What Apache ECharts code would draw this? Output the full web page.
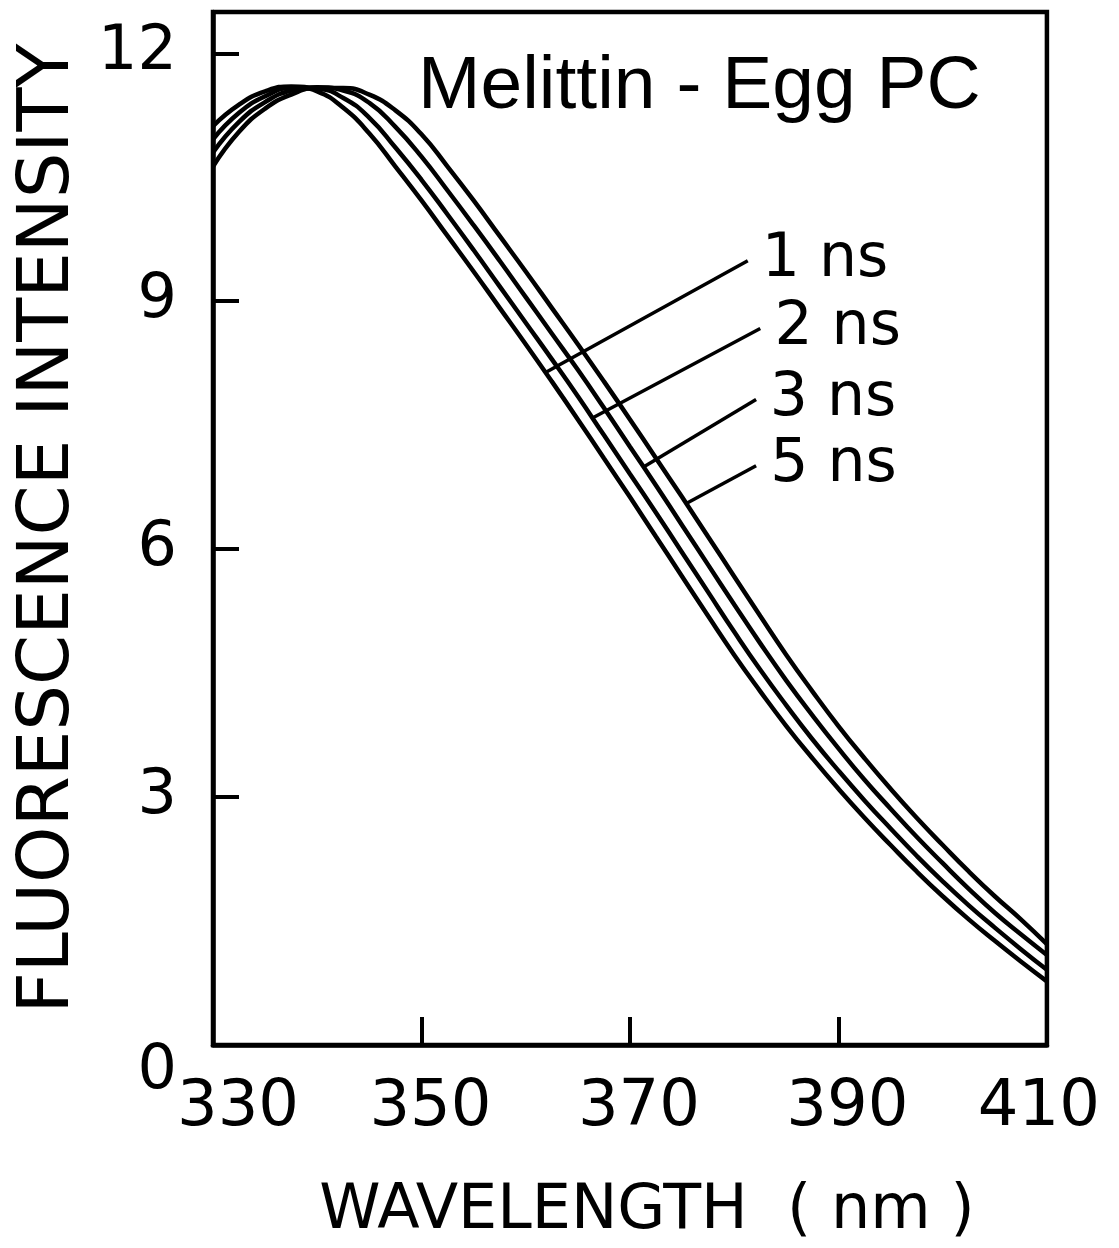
<!DOCTYPE html>
<html><head><meta charset="utf-8">
<script src="https://cdn.jsdelivr.net/npm/echarts/dist/echarts.min.js"></script>
<style>html,body{margin:0;padding:0;background:#fff}#c{width:1119px;height:1248px}</style>
</head><body><div id="c"></div>
<script>
const wavelengths = [330,332.5,335,337.5,340,342.5,345,347.5,350,352.5,355,357.5,360,362.5,365,367.5,370,372.5,375,377.5,380,382.5,385,387.5,390,392.5,395,397.5,400,402.5,405,407.5,410];
const s1ns = [11.12,11.38,11.54,11.60,11.54,11.34,11.03,10.63,10.22,9.79,9.36,8.92,8.48,8.03,7.57,7.10,6.63,6.15,5.67,5.19,4.72,4.28,3.86,3.47,3.10,2.75,2.42,2.10,1.80,1.52,1.26,1.01,0.77];
const s2ns = [10.96,11.28,11.48,11.58,11.57,11.46,11.22,10.86,10.47,10.05,9.62,9.18,8.74,8.30,7.85,7.38,6.91,6.44,5.96,5.48,5.00,4.54,4.11,3.70,3.32,2.96,2.62,2.29,1.98,1.69,1.42,1.16,0.91];
const s3ns = [10.80,11.17,11.41,11.55,11.59,11.55,11.40,11.11,10.75,10.34,9.92,9.49,9.05,8.61,8.17,7.71,7.24,6.77,6.29,5.81,5.33,4.86,4.41,3.99,3.59,3.21,2.86,2.52,2.20,1.89,1.60,1.34,1.09];
const s5ns = [10.63,11.05,11.33,11.50,11.58,11.58,11.50,11.31,11.02,10.63,10.22,9.79,9.36,8.92,8.48,8.03,7.57,7.10,6.63,6.15,5.67,5.19,4.72,4.28,3.86,3.47,3.10,2.75,2.42,2.10,1.80,1.52,1.22];
const seriesNames = ['1 ns','2 ns','3 ns','5 ns'];
const xTicks = [330,350,370,390,410];
const yTicks = [0,3,6,9,12];
const leaderCurveNm = [361.9,366.4,371.3,375.4];
const leaderLabelNm = [381.3,382.5,382.1,382.1];
const leaderLabelVal = [9.49,8.67,7.81,7.01];
const panelLabel = 'Melittin - Egg PC';
const xTitle = 'WAVELENGTH  ( nm )';
const yTitle = 'FLUORESCENCE INTENSITY';

const allSeries = [s1ns,s2ns,s3ns,s5ns];
function interp(arr, nm){
  for(let i=0;i<wavelengths.length-1;i++){
    if(nm>=wavelengths[i] && nm<=wavelengths[i+1]){
      const t=(nm-wavelengths[i])/(wavelengths[i+1]-wavelengths[i]);
      return arr[i]+(arr[i+1]-arr[i])*t;
    }
  }
  return arr[arr.length-1];
}
const FONT='DejaVu Sans';
const chart = echarts.init(document.getElementById('c'), null, {renderer:'canvas'});
const series = allSeries.map((arr,i)=>({
  name: seriesNames[i],
  type:'line',
  data: wavelengths.map((w,j)=>[w,arr[j]]),
  showSymbol:false,
  smooth:0.5,
  lineStyle:{color:'#000',width:4.5},
  animation:false,
  markLine:{
    silent:true, symbol:'none', animation:false,
    lineStyle:{color:'#000',width:3.5,type:'solid'},
    label:{show:true,position:'end',formatter:seriesNames[i],distance:[16,0],
      fontSize:60,fontFamily:FONT,color:'#000'},
    data:[[{coord:[leaderCurveNm[i], interp(arr,leaderCurveNm[i])]},{coord:[leaderLabelNm[i],leaderLabelVal[i]]}]]
  }
}));
const richX = {
  a:{fontSize:64,fontFamily:FONT,color:'#000',padding:[0,0,0,50]},
  b:{fontSize:64,fontFamily:FONT,color:'#000',padding:[0,0,0,18]},
  c:{fontSize:64,fontFamily:FONT,color:'#000',padding:[0,16,0,0]}
};
chart.setOption({
  backgroundColor:'#fff',
  animation:false,
  title:{text:panelLabel,left:413,top:45,textStyle:{fontFamily:'Liberation Sans',fontSize:75,fontWeight:'normal',color:'#000',lineHeight:75}},
  grid:{left:213,right:69,top:12,bottom:193,show:true,borderColor:'#000',borderWidth:4.5,containLabel:false},
  xAxis:{type:'value',min:xTicks[0],max:xTicks[xTicks.length-1],interval:20,
    name:xTitle,nameLocation:'middle',nameGap:136,
    nameTextStyle:{fontFamily:FONT,fontSize:62,color:'#000',padding:[0,0,0,34]},
    axisLine:{show:true,lineStyle:{color:'#000',width:4.5}},
    axisTick:{show:true,inside:true,length:28,lineStyle:{color:'#000',width:4}},
    splitLine:{show:false},
    axisLabel:{margin:31,lineHeight:64,fontSize:64,fontFamily:FONT,color:'#000',
      formatter:v=> xTicks.indexOf(v)<0?'':(v===330?'{a|'+v+'}':(v===410?'{c|'+v+'}':'{b|'+v+'}')),rich:richX}
  },
  yAxis:{type:'value',min:0,max:12.5,interval:3,
    name:yTitle,nameLocation:'middle',nameGap:128,
    nameTextStyle:{fontFamily:FONT,fontSize:72,color:'#000'},
    axisLine:{show:true,lineStyle:{color:'#000',width:4.5}},
    axisTick:{show:true,inside:true,length:26,lineStyle:{color:'#000',width:4}},
    splitLine:{show:false},
    axisLabel:{margin:36,fontSize:62,fontFamily:FONT,color:'#000',
      formatter:v=> yTicks.indexOf(v)<0?'':(v===0?'{z|0}':String(v)),
      rich:{z:{fontSize:62,fontFamily:FONT,color:'#000',padding:[54,0,0,0]}}}
  },
  series:series
});
</script></body></html>
